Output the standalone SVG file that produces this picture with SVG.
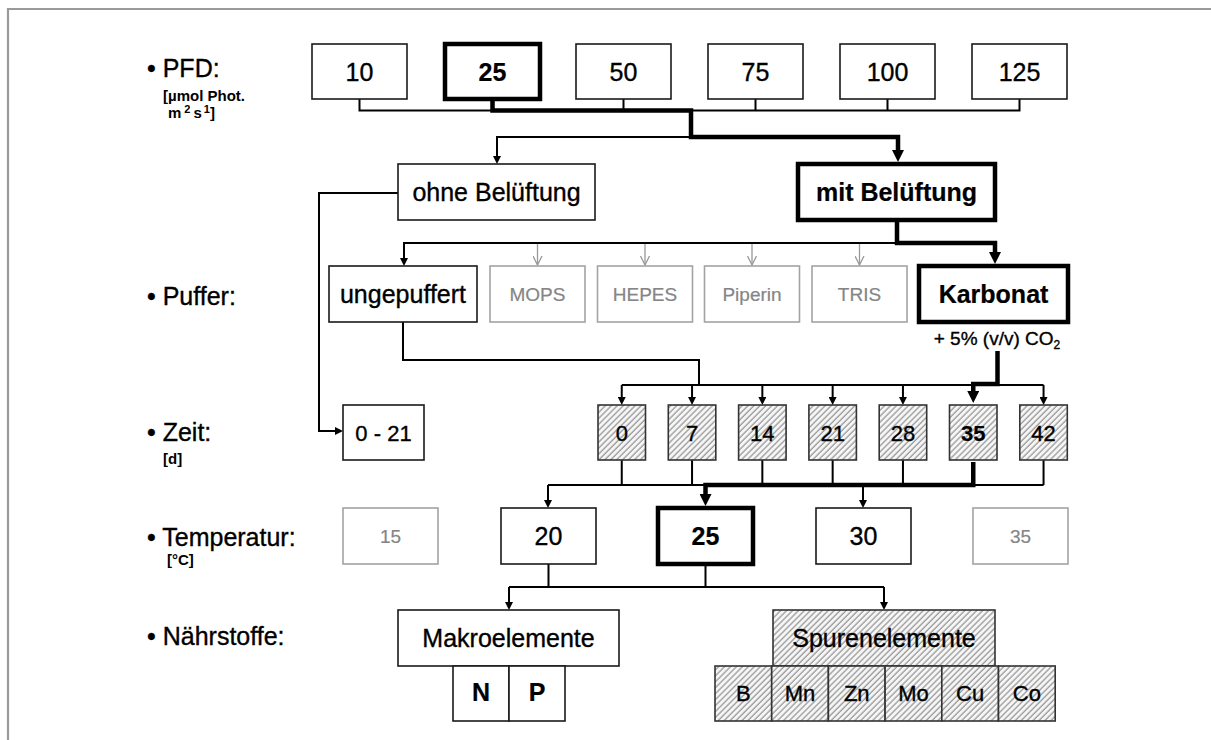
<svg xmlns="http://www.w3.org/2000/svg" width="1211" height="740" viewBox="0 0 1211 740">
<defs>
<style>
.box{fill:#fff;stroke:#1a1a1a;stroke-width:1.6}
.thick{stroke:#000;stroke-width:4.5}
.gbox{fill:#fff;stroke:#a3a3a3;stroke-width:1.6}
.hbox{fill:url(#hatch);stroke:#333;stroke-width:1.6}
text{font-family:"Liberation Sans",Arial,sans-serif;fill:#000;stroke:#000;stroke-width:0.35}
.t{font-size:25px;text-anchor:middle}
.tb{font-weight:bold;stroke-width:0.2}
.ts{font-size:22px;text-anchor:middle}
.g{font-size:19px;text-anchor:middle;fill:#858585;stroke:#858585;stroke-width:0.2}
.lab{font-size:25px}
.sub{font-size:15px;font-weight:bold;stroke-width:0}
.c{fill:none;stroke:#000;stroke-width:2}
.ca{fill:none;stroke:#000;stroke-width:2;marker-end:url(#ah)}
.ck{fill:none;stroke:#000;stroke-width:4.5}
.cka{fill:none;stroke:#000;stroke-width:4.5;marker-end:url(#ahk)}
.cg{fill:none;stroke:#9a9a9a;stroke-width:1.3;marker-end:url(#ahg)}
</style>
<pattern id="hatch" width="4.2" height="4.2" patternUnits="userSpaceOnUse" patternTransform="rotate(45)">
<rect width="4.2" height="4.2" fill="#f6f6f6"/>
<line x1="1" y1="0" x2="1" y2="4.2" stroke="#999" stroke-width="1.3"/>
</pattern>
<marker id="ah" viewBox="0 0 8 8" refX="5" refY="4" markerWidth="8" markerHeight="8" markerUnits="userSpaceOnUse" orient="auto"><path d="M0,0L8,4L0,8z" fill="#000"/></marker>
<marker id="ahk" viewBox="0 0 12 12" refX="6" refY="6" markerWidth="12" markerHeight="12" markerUnits="userSpaceOnUse" orient="auto"><path d="M0,0L12,6L0,12z" fill="#000"/></marker>
<marker id="ahg" viewBox="0 0 10 10" refX="9.5" refY="5" markerWidth="10" markerHeight="10" markerUnits="userSpaceOnUse" orient="auto"><path d="M0.5,0.5L9.5,5L0.5,9.5" fill="none" stroke="#9a9a9a" stroke-width="1.3"/></marker>
</defs>

<path d="M8,740V9H1211" fill="none" stroke="#9a9a9a" stroke-width="2.2"/>

<g id="labels">
<text class="lab" x="147" y="77">• PFD:</text>
<text class="sub" x="163" y="101">[µmol Phot.</text>
<text class="sub" x="168" y="118">m<tspan font-size="11" dx="3" dy="-5">2</tspan><tspan dx="3" dy="5">s</tspan><tspan font-size="11" dx="2" dy="-5">1</tspan><tspan dy="5">]</tspan></text>
<text class="lab" x="147" y="305">• Puffer:</text>
<text class="lab" x="147" y="441">• Zeit:</text>
<text class="sub" x="163" y="464">[d]</text>
<text class="lab" x="147" y="546">• Temperatur:</text>
<text class="sub" x="167" y="565">[°C]</text>
<text class="lab" x="147" y="645">• Nährstoffe:</text>
</g>

<g id="connectors">
<path class="c" d="M359.5,99V110.5H1019.5V99"/>
<path class="c" d="M623.5,99V110.5M755.5,99V110.5M887.5,99V110.5"/>
<path class="ca" d="M691,137H497V161"/>
<path class="cka" d="M492.5,101V110.5H691V137H898V156"/>
<path class="ca" d="M398,193H319V431H340"/>
<path class="ca" d="M897,243H404V263"/>
<path class="cka" d="M897,222V243H995V258"/>
<path class="cg" d="M537.5,244V265"/>
<path class="cg" d="M645,244V265"/>
<path class="cg" d="M752,244V265"/>
<path class="cg" d="M859.5,244V265"/>
<path class="c" d="M403,322V360H699V385"/>
<path class="c" d="M621.75,385H1043.55"/>
<path class="ca" d="M621.75,385V402"/>
<path class="ca" d="M692.05,385V402"/>
<path class="ca" d="M762.35,385V402"/>
<path class="ca" d="M832.65,385V402"/>
<path class="ca" d="M902.95,385V402"/>
<path class="ca" d="M1043.55,385V402"/>
<path class="cka" d="M997.5,351V384H973.25V397"/>
<path class="c" d="M621.75,460V485M692.05,460V485M762.35,460V485M832.65,460V485M902.95,460V485M1043.55,460V485"/>
<path class="c" d="M548,485H1043.55"/>
<path class="ca" d="M548,485V505"/>
<path class="ca" d="M863,485V505"/>
<path class="cka" d="M973.25,462V485H705.5V500"/>
<path class="c" d="M548.5,564V587M705.5,566V587M509,587H884"/>
<path class="ca" d="M509,587V607"/>
<path class="ca" d="M884,587V607"/>
</g>

<g id="pfd-10"><rect class="box" x="312" y="44" width="95" height="55"/><text class="t" x="359.5" y="81">10</text></g>
<g id="pfd-25"><rect class="box thick" x="445" y="44" width="95" height="55"/><text class="t tb" x="492.5" y="81">25</text></g>
<g id="pfd-50"><rect class="box" x="576" y="44" width="95" height="55"/><text class="t" x="623.5" y="81">50</text></g>
<g id="pfd-75"><rect class="box" x="708" y="44" width="95" height="55"/><text class="t" x="755.5" y="81">75</text></g>
<g id="pfd-100"><rect class="box" x="840" y="44" width="95" height="55"/><text class="t" x="887.5" y="81">100</text></g>
<g id="pfd-125"><rect class="box" x="972" y="44" width="95" height="55"/><text class="t" x="1019.5" y="81">125</text></g>

<g id="ohne"><rect class="box" x="398" y="164" width="197" height="56"/><text class="t" x="496.5" y="201">ohne Belüftung</text></g>
<g id="mit"><rect class="box thick" x="798" y="164" width="197" height="56"/><text class="t tb" x="896.5" y="201">mit Belüftung</text></g>

<g id="ungepuffert"><rect class="box" x="329" y="266" width="148" height="56"/><text class="t" x="403" y="303">ungepuffert</text></g>
<g id="mops"><rect class="gbox" x="490" y="266" width="95" height="56"/><text class="g" x="537.5" y="301">MOPS</text></g>
<g id="hepes"><rect class="gbox" x="597.5" y="266" width="95" height="56"/><text class="g" x="645" y="301">HEPES</text></g>
<g id="piperin"><rect class="gbox" x="704.5" y="266" width="95" height="56"/><text class="g" x="752" y="301">Piperin</text></g>
<g id="tris"><rect class="gbox" x="812" y="266" width="95" height="56"/><text class="g" x="859.5" y="301">TRIS</text></g>
<g id="karbonat"><rect class="box thick" x="919" y="266" width="149" height="56"/><text class="t tb" x="993.5" y="303">Karbonat</text>
<text x="997" y="345" font-size="19" text-anchor="middle">+ 5% (v/v) CO<tspan font-size="12" dy="4">2</tspan></text></g>

<g id="zeit-0-21"><rect class="box" x="343" y="405" width="81" height="55"/><text class="ts" x="383.5" y="440.5">0 - 21</text></g>
<g id="zeit-0"><rect class="hbox" x="598" y="405" width="47.5" height="55"/><text class="ts" x="621.75" y="440.5">0</text></g>
<g id="zeit-7"><rect class="hbox" x="668.3" y="405" width="47.5" height="55"/><text class="ts" x="692.05" y="440.5">7</text></g>
<g id="zeit-14"><rect class="hbox" x="738.6" y="405" width="47.5" height="55"/><text class="ts" x="762.35" y="440.5">14</text></g>
<g id="zeit-21"><rect class="hbox" x="808.9" y="405" width="47.5" height="55"/><text class="ts" x="832.65" y="440.5">21</text></g>
<g id="zeit-28"><rect class="hbox" x="879.2" y="405" width="47.5" height="55"/><text class="ts" x="902.95" y="440.5">28</text></g>
<g id="zeit-35"><rect class="hbox thick" x="949.5" y="405" width="47.5" height="55"/><text class="ts tb" x="973.25" y="440.5">35</text></g>
<g id="zeit-42"><rect class="hbox" x="1019.8" y="405" width="47.5" height="55"/><text class="ts" x="1043.55" y="440.5">42</text></g>

<g id="temp-15"><rect class="gbox" x="343" y="508" width="95" height="56"/><text class="g" x="390.5" y="543">15</text></g>
<g id="temp-20"><rect class="box" x="501" y="508" width="95" height="56"/><text class="t" x="548.5" y="545">20</text></g>
<g id="temp-25"><rect class="box thick" x="658" y="508" width="95" height="56"/><text class="t tb" x="705.5" y="545">25</text></g>
<g id="temp-30"><rect class="box" x="816" y="508" width="95" height="56"/><text class="t" x="863.5" y="545">30</text></g>
<g id="temp-35"><rect class="gbox" x="973" y="508" width="95" height="56"/><text class="g" x="1020.5" y="543">35</text></g>

<g id="makro"><rect class="box" x="398" y="610" width="221" height="56"/><text class="t" x="508.5" y="647">Makroelemente</text></g>
<g id="n"><rect class="box" x="453" y="666" width="56" height="55"/><text class="t tb" x="481" y="701" font-size="20">N</text></g>
<g id="p"><rect class="box" x="509" y="666" width="56" height="55"/><text class="t tb" x="537" y="701" font-size="20">P</text></g>

<g id="spuren"><rect class="hbox" x="773" y="610" width="222" height="56"/><text class="t" x="884" y="647">Spurenelemente</text></g>
<g id="b"><rect class="hbox" x="715" y="666" width="56.7" height="55"/><text class="ts" x="743.35" y="701" font-size="21">B</text></g>
<g id="mn"><rect class="hbox" x="771.7" y="666" width="56.7" height="55"/><text class="ts" x="800.05" y="701" font-size="21">Mn</text></g>
<g id="zn"><rect class="hbox" x="828.4" y="666" width="56.7" height="55"/><text class="ts" x="856.75" y="701" font-size="21">Zn</text></g>
<g id="mo"><rect class="hbox" x="885.1" y="666" width="56.7" height="55"/><text class="ts" x="913.45" y="701" font-size="21">Mo</text></g>
<g id="cu"><rect class="hbox" x="941.8" y="666" width="56.7" height="55"/><text class="ts" x="970.15" y="701" font-size="21">Cu</text></g>
<g id="co"><rect class="hbox" x="998.5" y="666" width="56.7" height="55"/><text class="ts" x="1026.85" y="701" font-size="21">Co</text></g>
</svg>
